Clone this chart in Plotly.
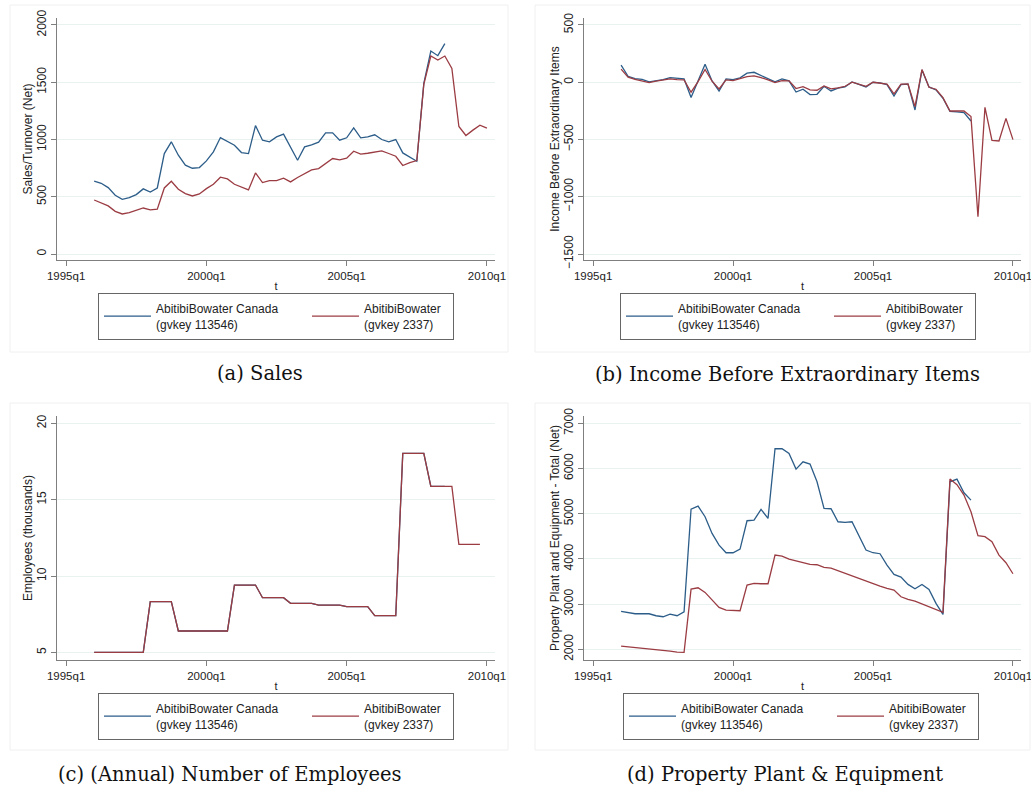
import plotly.graph_objects as go

# quarterly dates, 1996q1 .. 2010q1
quarters = [f"{y}q{q}" for y in range(1996, 2011) for q in range(1, 5)][:57]

sales_canada = [636, 618, 580, 513, 478, 493, 519, 569, 542, 577, 877, 980, 863, 776, 749, 755,
                813, 892, 1017, 985, 950, 886, 877, 1122, 994, 980, 1023, 1047, 930, 819, 936, 953,
                977, 1058, 1058, 994, 1015, 1102, 1015, 1023, 1041, 1000, 980, 1000, 883, 848, 810,
                1490, 1773, 1732, 1837]
sales_abitibi = [472, 449, 420, 373, 350, 362, 379, 402, 385, 391, 577, 636, 566, 528, 507, 525,
                 571, 609, 671, 656, 609, 586, 560, 708, 624, 641, 641, 662, 630, 668, 700, 735,
                 746, 787, 834, 822, 837, 898, 872, 880, 892, 901, 878, 854, 773, 799, 816,
                 1481, 1729, 1694, 1729, 1621, 1114, 1035, 1082, 1125, 1099]

income_canada = [149, 52, 32, 26, 3, 12, 23, 41, 35, 29, -134, 6, 157, 12, -76, 29, 23, 38, 79, 87,
                 61, 29, 3, 29, 12, -85, -61, -108, -105, -35, -76, -52, -41, 3, -17, -41, 0, -6,
                 -20, -120, -20, -17, -242, 108, -41, -67, -140, -254, -259, -265, -338]
income_abitibi = [114, 44, 26, 12, -3, 9, 17, 29, 23, 20, -87, 6, 111, 9, -58, 20, 15, 32, 50, 55,
                  41, 20, -3, 15, 12, -55, -38, -67, -70, -32, -58, -50, -35, 0, -20, -35, 0, -9,
                  -17, -102, -17, -15, -213, 111, -44, -61, -134, -251, -251, -251, -300, -1175,
                  -219, -507, -513, -315, -501]

emp_canada = [5.0, 5.0, 5.0, 5.0, 5.0, 5.0, 5.0, 5.0, 8.32, 8.32, 8.32, 8.32, 6.4, 6.4, 6.4, 6.4,
              6.4, 6.4, 6.4, 6.4, 9.41, 9.41, 9.41, 9.41, 8.58, 8.58, 8.58, 8.58, 8.21, 8.21, 8.21,
              8.21, 8.1, 8.1, 8.1, 8.1, 7.99, 7.99, 7.99, 7.99, 7.4, 7.4, 7.4, 7.4, 18.03, 18.03,
              18.03, 18.03, 15.87, 15.87, 15.87]
emp_abitibi = [5.0, 5.0, 5.0, 5.0, 5.0, 5.0, 5.0, 5.0, 8.32, 8.32, 8.32, 8.32, 6.4, 6.4, 6.4, 6.4,
               6.4, 6.4, 6.4, 6.4, 9.41, 9.41, 9.41, 9.41, 8.58, 8.58, 8.58, 8.58, 8.21, 8.21, 8.21,
               8.21, 8.1, 8.1, 8.1, 8.1, 7.99, 7.99, 7.99, 7.99, 7.4, 7.4, 7.4, 7.4, 18.03, 18.03,
               18.03, 18.03, 15.87, 15.87, 15.87, 15.87, 12.07, 12.07, 12.07, 12.07]

ppe_canada = [2838, 2808, 2786, 2786, 2786, 2742, 2720, 2779, 2742, 2830, 5102, 5168, 4932, 4563,
              4305, 4136, 4136, 4217, 4844, 4858, 5094, 4895, 6436, 6436, 6333, 5986, 6148, 6097,
              5706, 5116, 5109, 4821, 4807, 4821, 4490, 4195, 4136, 4114, 3863, 3656, 3597, 3435,
              3339, 3435, 3324, 3015, 2771, 5706, 5765, 5463, 5301]
ppe_abitibi = [2071, 2056, 2049, 2034, 2012, 1990, 1975, 1960, 1938, 1931, 3332, 3361, 3258, 3088,
               2926, 2867, 2853, 2853, 3420, 3457, 3450, 3450, 4084, 4062, 3996, 3959, 3907, 3878,
               3870, 3811, 3796, 3737, 3678, 3619, 3568, 3516, 3457, 3398, 3347, 3310, 3162, 3103,
               3066, 3000, 2934, 2882, 2816, 5765, 5640, 5412, 5043, 4512, 4490, 4379, 4084, 3915,
               3671]

x_ticks = ["1995q1", "2000q1", "2005q1", "2010q1"]
name_canada = "AbitibiBowater Canada<br>(gvkey 113546)"
name_abitibi = "AbitibiBowater<br>(gvkey 2337)"
captions = ["(a) Sales", "(b) Income Before Extraordinary Items",
            "(c) (Annual) Number of Employees", "(d) Property Plant & Equipment"]


def qnum(s):
    # stata style quarterly date: 1960q1 = 0
    y, q = s.split("q")
    return (int(y) - 1960) * 4 + int(q) - 1


t = [qnum(s) for s in quarters]
tickvals = [qnum(s) for s in x_ticks]

W, H = 1031, 789
BLUE = "#2c5d89"
RED = "#9b3c43"
FONT = "Liberation Sans, Arial, sans-serif"


def px_x(v):
    return v / W


def px_y(v):
    return 1 - v / H


panels = [
    # (canada, abitibi, ytitle, yrange, ytickvals, x0, x1, ytop, ybot)
    (sales_canada, sales_abitibi, "Sales/Turnover (Net)", [-52, 2061], [0, 500, 1000, 1500, 2000],
     57, 495, 18, 260),
    (income_canada, income_abitibi, "Income Before Extraordinary Items", [-1552, 561],
     [-1500, -1000, -500, 0, 500], 584, 1021, 18, 260),
    (emp_canada, emp_abitibi, "Employees (thousands)", [4.5, 20.48], [5, 10, 15, 20],
     57, 495, 416, 660),
    (ppe_canada, ppe_abitibi, "Property Plant and Equipment - Total (Net)", [1763, 7161],
     [2000, 3000, 4000, 5000, 6000, 7000], 584, 1021, 416, 660),
]
legend_pos = [(98, 293), (620, 293), (98, 693), (623, 693)]
caption_pos = [(260, 373), (787, 374), (229, 774), (785, 774)]
frames = [(10, 5, 508, 352), (535, 5, 1030, 352), (10, 403, 508, 750), (535, 403, 1030, 750)]

fig = go.Figure()
layout = {}
for i, (cb, ab, ytitle, yr, ytv, x0, x1, yt, yb) in enumerate(panels):
    n = "" if i == 0 else str(i + 1)
    leg = "legend" + n
    fig.add_trace(go.Scatter(x=t[:len(cb)], y=cb, mode="lines", name=name_canada,
                             line=dict(color=BLUE, width=1.3), xaxis="x" + n, yaxis="y" + n,
                             legend=leg, legendwidth=146))
    fig.add_trace(go.Scatter(x=t[:len(ab)], y=ab, mode="lines", name=name_abitibi,
                             line=dict(color=RED, width=1.3), xaxis="x" + n, yaxis="y" + n,
                             legend=leg, legendwidth=84))
    layout["xaxis" + n] = dict(
        domain=[px_x(x0), px_x(x1)], anchor="y" + n, range=[138.7, 201.15],
        tickvals=tickvals, ticktext=x_ticks, ticks="outside", ticklen=5, tickcolor="#7f7f7f",
        showline=True, linecolor="#7f7f7f", linewidth=1, showgrid=False, zeroline=False,
        ticklabeloverflow="allow", tickfont=dict(size=11.5, color="#222"),
        title=dict(text="t", font=dict(size=11, color="#222"), standoff=1))
    layout["yaxis" + n] = dict(
        domain=[px_y(yb), px_y(yt)], anchor="x" + n, range=yr, tickvals=ytv,
        ticks="outside", ticklen=5, tickcolor="#7f7f7f", tickangle=-90,
        showline=True, linecolor="#7f7f7f", linewidth=1, showgrid=True, gridcolor="#eaf1f1",
        gridwidth=1, zeroline=False, ticklabeloverflow="allow",
        tickfont=dict(size=12, color="#222"),
        title=dict(text=ytitle, font=dict(size=12, color="#222"), standoff=0))
    lx, ly = legend_pos[i]
    layout[leg] = dict(
        x=px_x(lx), y=px_y(ly), xanchor="left", yanchor="top", orientation="h",
        bgcolor="white", bordercolor="#666", borderwidth=1, itemwidth=47,
        entrywidthmode="pixels", tracegroupgap=0,
        font=dict(family=FONT, size=12, color="#222"), itemclick=False)
    cx, cy = caption_pos[i]
    fig.add_annotation(x=px_x(cx), y=px_y(cy), xref="paper", yref="paper", text=captions[i],
                       showarrow=False, xanchor="center", yanchor="middle",
                       font=dict(family="DejaVu Serif, serif", size=19.5, color="#111"))
    fx0, fy0, fx1, fy1 = frames[i]
    fig.add_shape(type="rect", xref="paper", yref="paper", x0=px_x(fx0), x1=px_x(fx1),
                  y0=px_y(fy1), y1=px_y(fy0), line=dict(color="#f0f0f0", width=1), layer="below")

fig.update_layout(**layout)
fig.update_layout(width=W, height=H, margin=dict(l=0, r=0, t=0, b=0, autoexpand=False),
                  paper_bgcolor="white", plot_bgcolor="white",
                  font=dict(family=FONT, size=11, color="#222"))

# drop the default 8px page margin so the figure fills the window exactly
fig.write_html("out.html", config={"displayModeBar": False},
               post_script="document.body.style.margin='0';document.body.style.overflow='hidden';")
